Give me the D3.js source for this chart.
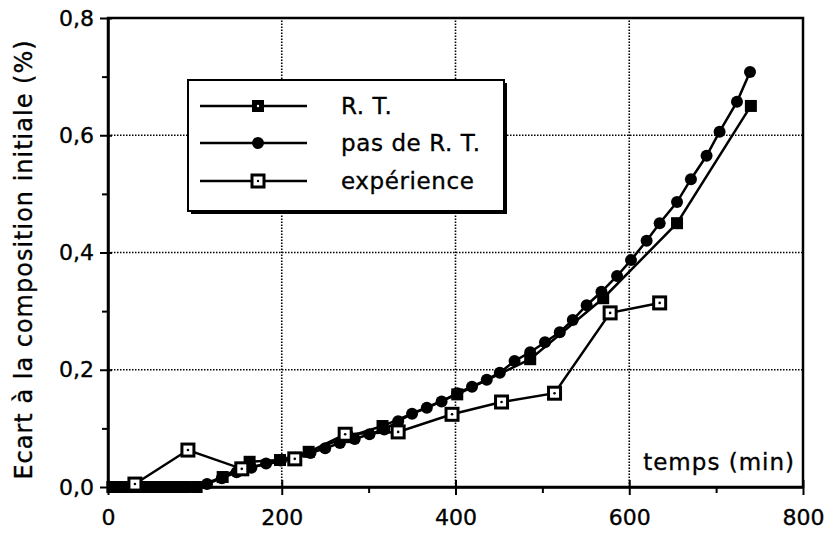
<!DOCTYPE html>
<html>
<head>
<meta charset="utf-8">
<script src="https://cdn.jsdelivr.net/npm/d3@7"></script>
<style>
  html, body { margin: 0; padding: 0; background: #fff; }
  svg { display: block; }
  text { font-family: "DejaVu Sans", sans-serif; fill: #000; stroke: #000; stroke-width: 0.35px; }
</style>
</head>
<body>
<div id="chart"></div>
<script>
// ---- data ----
const rtTime  = [5, 17, 28, 40, 52, 64, 76, 88, 102, 132, 163, 198, 231, 275, 316, 402, 486, 570, 655, 740];
const rtValue = [0, 0, 0, 0, 0, 0, 0, 0, 0, 0.017, 0.043, 0.046, 0.06, 0.085, 0.104, 0.158, 0.218, 0.322, 0.45, 0.65];

const noRtTime  = [12, 29, 46, 63, 80, 97, 114, 131, 148, 165, 182, 199, 216, 233, 250, 267, 284, 301, 318, 334, 350, 367, 384, 402, 419, 436, 451, 468, 486, 503, 520, 535, 551, 568, 586, 602, 620, 635, 655, 671, 689, 704, 724, 739];
const noRtValue = [0, 0, 0, 0, 0, 0, 0.005, 0.015, 0.025, 0.033, 0.04, 0.045, 0.05, 0.058, 0.066, 0.075, 0.082, 0.09, 0.098, 0.112, 0.125, 0.135, 0.146, 0.16, 0.171, 0.183, 0.195, 0.215, 0.23, 0.247, 0.264, 0.285, 0.31, 0.333, 0.36, 0.387, 0.42, 0.45, 0.486, 0.525, 0.565, 0.606, 0.657, 0.708];

const expTime  = [31, 92, 154, 215, 273, 334, 396, 453, 514, 578, 635];
const expValue = [0.005, 0.063, 0.031, 0.048, 0.090, 0.094, 0.124, 0.145, 0.160, 0.297, 0.314];

const xTicks = [0, 200, 400, 600, 800];
const xMinor = [100, 300, 500, 700];
const yTicks = [0, 0.2, 0.4, 0.6, 0.8];
const yMinor = [0.1, 0.3, 0.5, 0.7];
const seriesNames = ["R. T.", "pas de R. T.", "expérience"];
const yLabel = "Ecart à la composition initiale (%)";
const xLabel = "temps  (min)";

// ---- layout ----
const W = 830, H = 535;
const x = d3.scaleLinear().domain([0, 800]).range([108, 803]);
const y = d3.scaleLinear().domain([0, 0.8]).range([487, 18]);
const fmtY = d => d3.format(".1f")(d).replace(".", ",");

const svg = d3.select("#chart").append("svg").attr("width", W).attr("height", H);

// grid (dotted)
const grid = svg.append("g").attr("stroke", "#000").attr("stroke-width", 1.6).attr("stroke-dasharray", "1.5,1.5");
grid.selectAll("line.gx").data(xTicks.slice(1, -1)).enter().append("line")
  .attr("x1", d => x(d)).attr("x2", d => x(d)).attr("y1", y(0)).attr("y2", y(0.8));
grid.selectAll("line.gy").data(yTicks.slice(1, -1)).enter().append("line")
  .attr("y1", d => y(d)).attr("y2", d => y(d)).attr("x1", x(0)).attr("x2", x(800));

// frame
svg.append("rect").attr("x", x(0)).attr("y", y(0.8)).attr("width", x(800) - x(0)).attr("height", y(0) - y(0.8))
  .attr("fill", "none").attr("stroke", "#000").attr("stroke-width", 2.5);

// axes
const xAxis = svg.append("g").attr("transform", `translate(0,${y(0)})`)
  .call(d3.axisBottom(x).tickValues(xTicks).tickSize(8).tickSizeOuter(0).tickPadding(14).tickFormat(d3.format("d")));
xAxis.select(".domain").attr("stroke-width", 2.5);
xAxis.selectAll(".tick line").attr("stroke-width", 2).attr("y1", -7);
xAxis.selectAll("text").attr("font-size", 22);
svg.append("g").attr("transform", `translate(0,${y(0)})`)
  .call(d3.axisBottom(x).tickValues(xMinor).tickSize(6).tickFormat(""))
  .call(g => g.select(".domain").remove())
  .selectAll(".tick line").attr("stroke-width", 2);

const yAxis = svg.append("g").attr("transform", `translate(${x(0)},0)`)
  .call(d3.axisLeft(y).tickValues(yTicks).tickSize(8).tickSizeOuter(0).tickPadding(6).tickFormat(fmtY));
yAxis.select(".domain").attr("stroke-width", 2.5);
yAxis.selectAll(".tick line").attr("stroke-width", 2).attr("x1", 4);
yAxis.selectAll("text").attr("font-size", 22);
svg.append("g").attr("transform", `translate(${x(0)},0)`)
  .call(d3.axisLeft(y).tickValues(yMinor).tickSize(6).tickFormat(""))
  .call(g => g.select(".domain").remove())
  .selectAll(".tick line").attr("stroke-width", 2);

// labels
svg.append("text").attr("transform", `translate(32,${(y(0) + y(0.8)) / 2 + 7}) rotate(-90)`)
  .attr("text-anchor", "middle").attr("font-size", 24).attr("letter-spacing", 1).text(yLabel);
svg.append("text").attr("x", 795).attr("y", 470).attr("text-anchor", "end").attr("font-size", 23)
  .attr("letter-spacing", 1).text(xLabel);

// series
const line = d3.line().x(d => x(d[0])).y(d => y(d[1]));
const noRt = d3.zip(noRtTime, noRtValue);
const rt = d3.zip(rtTime, rtValue);
const ex = d3.zip(expTime, expValue);

const gRt = svg.append("g");
gRt.append("path").attr("d", line(rt)).attr("fill", "none").attr("stroke", "#000").attr("stroke-width", 2.5);
gRt.selectAll("rect").data(rt).enter().append("rect")
  .attr("x", d => x(d[0]) - 6).attr("y", d => y(d[1]) - 6)
  .attr("width", 12).attr("height", 12).attr("fill", "#000");

const gNo = svg.append("g");
gNo.append("path").attr("d", line(noRt)).attr("fill", "none").attr("stroke", "#000").attr("stroke-width", 2.5);
gNo.selectAll("circle").data(noRt).enter().append("circle")
  .attr("cx", d => x(d[0])).attr("cy", d => y(d[1])).attr("r", 6).attr("fill", "#000");

const gEx = svg.append("g");
gEx.append("path").attr("d", line(ex)).attr("fill", "none").attr("stroke", "#000").attr("stroke-width", 2.5);
gEx.selectAll("rect").data(ex).enter().append("rect")
  .attr("x", d => x(d[0]) - 6).attr("y", d => y(d[1]) - 6).attr("width", 12).attr("height", 12)
  .attr("fill", "#fff").attr("stroke", "#000").attr("stroke-width", 3);
gEx.selectAll("circle").data(ex).enter().append("circle")
  .attr("cx", d => x(d[0])).attr("cy", d => y(d[1])).attr("r", 1.3).attr("fill", "#000");

// legend
const lg = svg.append("g");
lg.append("rect").attr("x", 191).attr("y", 83).attr("width", 316).attr("height", 131).attr("fill", "#000");
lg.append("rect").attr("x", 188).attr("y", 80).attr("width", 316).attr("height", 131)
  .attr("fill", "#fff").attr("stroke", "#000").attr("stroke-width", 2);
const rowsY = [106, 143, 181];
seriesNames.forEach((name, i) => {
  const yy = rowsY[i];
  lg.append("line").attr("x1", 200).attr("x2", 307).attr("y1", yy).attr("y2", yy).attr("stroke", "#000").attr("stroke-width", 2.5);
  if (i === 0) {
    lg.append("rect").attr("x", 252).attr("y", yy - 6).attr("width", 12).attr("height", 12).attr("fill", "#000");
    lg.append("circle").attr("cx", 258).attr("cy", yy).attr("r", 1.2).attr("fill", "#fff");
  } else if (i === 1) {
    lg.append("circle").attr("cx", 258).attr("cy", yy).attr("r", 6).attr("fill", "#000");
  } else {
    lg.append("rect").attr("x", 252).attr("y", yy - 6).attr("width", 12).attr("height", 12)
      .attr("fill", "#fff").attr("stroke", "#000").attr("stroke-width", 3);
    lg.append("circle").attr("cx", 258).attr("cy", yy).attr("r", 1.2).attr("fill", "#000");
  }
  lg.append("text").attr("x", 341).attr("y", yy + 8).attr("font-size", 23).attr("letter-spacing", 0.6).text(name);
});
</script>
</body>
</html>
